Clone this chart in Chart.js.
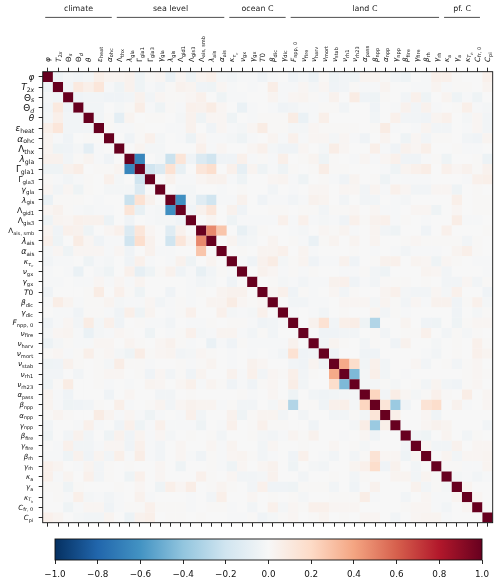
<!DOCTYPE html>
<html>
<head>
<meta charset="utf-8">
<script src="https://cdn.jsdelivr.net/npm/chart.js@4/dist/chart.umd.min.js"></script>
<style>
html,body{margin:0;padding:0;background:#fff;}
#wrap{position:relative;width:500px;height:582px;overflow:hidden;}
canvas{position:absolute;left:0;display:block;}
</style>
</head>
<body>
<div id="wrap">
<canvas id="main" width="500" height="582" style="top:0"></canvas>
<canvas id="bar" width="500" height="57" style="top:525px"></canvas>
</div>
<script>
// tick labels: base symbol and subscript ("_" opens a further subscript level, "*" = italic)
const tickBases = ["φ","T","Θ","Θ","θ","ε","α","Λ","λ","Γ","Γ","γ","λ","Λ","Λ","Λ","λ","α","κ","ν","γ","T0","β","γ","F","ν","ν","ν","ν","ν","ν","α","β","α","γ","β","γ","β","γ","κ","γ","κ","C","C"];
const tickSubs = ["","2*x","*s","*d","","heat","ohc","thx","gla","gla1","gla3","gla","gis","gid1","gis3","ais, smb","ais","ais","*τ_c","gx","gx","","dic","dic","npp, 0","fire","harv","mort","stab","rh1","rh23","pass","npp","npp","npp","fire","fire","rh","rh","a","a","*T_h","fr, 0","pi"];

// group headers: name, first and last column
const groupNames = ["climate","sea level","ocean C","land C","pf. C"];
const groupFirst = [0,7,18,24,39];
const groupLast = [6,17,23,38,42];

// correlation in hundredths: each row lists the columns to the right of the diagonal
const r0=[-5,-2,-3,-2,6,3,3,4,-5,1,2,-7,2,-5,3,5,-2,-3,-1,-1,-4,-1,0,-4,-2,-6,1,-5,-3,-5,3,3,1,-3,-5,0,-1,5,5,1,0,0,5];
const r1=[-3,10,6,12,-1,-5,4,-5,-1,-3,1,4,3,-4,-5,2,-1,0,-1,0,7,-1,-1,2,-2,2,-4,-3,1,-1,-1,3,0,0,-1,-1,3,-1,1,1,0,3];
const r2=[-4,-3,-3,-4,-4,-3,4,-3,2,1,1,2,5,0,-5,-1,-1,0,0,3,-1,2,3,1,-1,4,0,8,-4,-5,1,0,-3,5,-5,0,3,-5,-1,-5,0];
const r3=[-3,-3,0,-2,1,7,-1,-5,1,-1,5,4,8,2,0,-7,-1,0,-1,-4,-3,-1,-1,1,1,-3,0,0,-4,0,-1,4,-3,4,-1,0,1,6,-1,-2];
const r4=[-3,1,-10,3,0,1,1,0,-2,4,-5,2,2,-5,0,-1,1,1,1,8,-7,-1,6,0,0,0,0,-3,0,5,-3,-3,-4,3,5,0,-2,2,-3];
const r5=[1,-1,-1,1,0,0,-1,-1,4,0,-4,2,-1,-2,2,8,1,1,-2,-2,2,1,1,1,1,0,1,8,-1,0,-1,3,-3,-3,0,-1,2,-3];
const r6=[0,-4,1,5,-2,0,-1,-6,2,-1,-1,-2,-5,-1,0,3,-1,5,-1,2,2,-2,2,-1,-4,0,3,0,-5,2,-3,1,1,0,-3,-4,3];
const r7=[0,3,-2,-2,0,0,0,5,-1,2,0,0,2,5,-2,-4,-4,2,0,-2,7,2,0,0,6,-1,-4,4,2,6,0,0,1,-1,-1,0];
const r8=[-66,0,-2,-22,13,-4,-14,-20,-4,-4,5,-1,1,-1,6,0,1,3,-5,1,0,-1,2,-1,2,5,-4,-4,-1,1,-5,0,0,1,-6];
const r9=[-20,-14,15,-8,0,12,17,0,5,-9,3,-5,-1,-5,1,0,1,7,1,1,0,0,0,-1,-5,3,5,7,0,5,2,4,1,4];
const r10=[0,4,-1,-1,2,4,4,-1,-5,0,0,2,3,-1,-5,0,1,-1,-4,3,0,1,-5,-1,-1,-1,-1,0,0,0,-1,5,6];
const r11=[0,-2,-2,0,0,-1,0,1,0,0,-3,0,-1,0,2,2,0,2,2,-3,3,-1,5,2,-3,-3,2,2,-5,0,1,0];
const r12=[-62,-2,-12,-20,-1,-1,4,0,-4,-1,-1,-3,-1,4,3,0,-3,0,-3,-3,0,-1,-2,0,0,0,0,6,0,1,1];
const r13=[-4,4,12,0,4,-4,0,0,1,1,0,1,1,-3,1,1,2,0,2,-1,-1,0,2,2,-5,0,2,0,1,1];
const r14=[0,3,0,-5,-1,-1,-1,-1,5,-1,5,-1,-2,-1,-4,5,1,4,5,-1,1,0,-1,0,0,7,-1,-1,0];
const r15=[48,28,0,-8,-3,1,0,0,-1,-2,0,2,1,3,-1,0,3,-3,-5,0,0,-4,0,5,0,0,0,1];
const r16=[0,3,-3,-2,0,3,0,1,-1,-7,1,3,0,3,0,3,0,0,1,2,1,1,1,1,-3,1,0];
const r17=[0,1,0,3,3,5,0,3,-1,0,0,0,1,0,-1,0,-1,-3,-1,-1,-1,0,3,6,1,0];
const r18=[-1,-4,4,8,-2,1,3,-4,-1,-1,4,-4,0,1,4,5,0,3,2,-5,2,1,0,-1,-1];
const r19=[0,4,2,-1,1,-1,1,0,0,-1,-1,1,-3,-5,0,0,0,3,2,-3,0,0,0,-1];
const r20=[0,1,-2,-1,-3,-1,-1,4,5,-4,-1,-3,1,1,1,0,1,0,-3,-3,2,-3,1];
const r21=[2,5,-4,1,-1,0,2,-3,1,0,0,3,5,-2,-3,-3,2,-2,5,0,0,-4];
const r22=[0,-3,-3,-1,-1,0,2,2,2,-2,3,1,-3,2,-1,4,4,-4,1,5,-2];
const r23=[-1,0,-1,-3,0,1,0,0,3,-3,1,-1,0,0,0,0,-4,0,-2,1];
const r24=[0,4,15,-3,6,7,-5,-30,0,0,3,0,-4,-5,0,-5,1,2,2];
const r25=[0,-4,-4,-3,-3,0,1,-3,0,1,1,5,0,-3,1,-2,1,0];
const r26=[-3,3,1,0,-3,1,0,-4,4,0,0,-2,0,1,0,5,1];
const r27=[-4,0,0,-4,-4,0,0,0,0,-1,-3,0,1,0,5,3];
const r28=[38,18,-3,5,-3,0,0,2,-3,0,1,-3,1,2,0];
const r29=[-45,-2,6,-3,0,-1,0,0,0,0,0,1,2,1];
const r30=[-2,-2,1,-2,0,1,-3,3,-3,-4,1,2,0];
const r31=[22,-3,7,2,-2,1,5,1,0,7,0,2];
const r32=[13,-37,-4,0,14,18,0,4,-1,0,2];
const r33=[6,0,0,2,-4,0,0,0,0,0];
const r34=[0,0,2,4,3,0,0,0,-3];
const r35=[-3,-5,0,3,0,-3,1,0];
const r36=[2,-3,-3,4,0,2,2];
const r37=[0,3,-3,2,2,3];
const r38=[1,1,-1,-1,3];
const r39=[-2,-1,-3,-1];
const r40=[3,0,0];
const r41=[2,0];
const r42=[0];
const upperRows=[r0,r1,r2,r3,r4,r5,r6,r7,r8,r9,r10,r11,r12,r13,r14,r15,r16,r17,r18,r19,r20,r21,r22,r23,r24,r25,r26,r27,r28,r29,r30,r31,r32,r33,r34,r35,r36,r37,r38,r39,r40,r41,r42];

// colour map (RdBu reversed) and colour bar ticks
const cmapStops=["#053061","#2166ac","#4393c3","#92c5de","#d1e5f0","#f7f7f7","#fddbc7","#f4a582","#d6604d","#b2182b","#67001f"];
const barTicks=[-1,-0.8,-0.6,-0.4,-0.2,0,0.2,0.4,0.6,0.8,1];

const N=tickBases.length;
upperRows.forEach((r,i)=>{ if(r.length!==N-1-i) throw new Error("row "+i+" has "+r.length+" expected "+(N-1-i)); });

const cells=[];
for(let i=0;i<N;i++){
  cells.push({x:i,y:i,v:1});
  const r=upperRows[i]||[];
  r.forEach((p,k)=>{ const j=i+1+k; cells.push({x:j,y:i,v:p/100}); cells.push({x:i,y:j,v:p/100}); });
}
function hex(h){return [1,3,5].map(o=>parseInt(h.substr(o,2),16));}
const stopRGB=cmapStops.map(hex);
function colorFor(v){
  const t=Math.max(0,Math.min(1,(v+1)/2))*(stopRGB.length-1);
  const a=Math.min(Math.floor(t),stopRGB.length-2), f=t-a;
  const c=stopRGB[a].map((q,n)=>Math.round(q+(stopRGB[a+1][n]-q)*f));
  return `rgb(${c[0]},${c[1]},${c[2]})`;
}

const FONT='"DejaVu Sans"', INK='#111';
const TOP_SIZE=7.2;
function leftSize(i){ return i<10?8.9 : i<15?7.8 : i===15?7.2 : i<18?8 : i<31?7.4 : 7; }
function tokens(base,sub){
  const out=[];
  const first=base[0];
  const upright=/[ΘΛΓ]/.test(first);
  out.push({t:first,it:!upright,lv:0});
  if(base.length>1) out.push({t:base.slice(1),it:false,lv:0});
  let lv=1,it=false,buf='';
  const flush=()=>{ if(buf){out.push({t:buf,it,lv});buf='';} };
  for(const ch of sub){
    if(ch==='*'){flush();it=true;continue;}
    if(ch==='_'){flush();lv++;continue;}
    buf+=ch;
  }
  flush();
  return out;
}
const fontOf=(tk,fs)=>`${tk.it?'italic ':''}${fs*Math.pow(0.7,tk.lv)}px ${FONT}`;
function widthOf(ctx,toks,fs){let w=0;toks.forEach(tk=>{ctx.font=fontOf(tk,fs);w+=ctx.measureText(tk.t).width;});return w;}
function drawToks(ctx,toks,startX,fs){
  let x=startX;
  toks.forEach(tk=>{
    ctx.font=fontOf(tk,fs);
    ctx.fillText(tk.t,x,tk.lv*fs*0.21);
    x+=ctx.measureText(tk.t).width;
  });
}

const matrixText={
  id:'matrixText',
  beforeDatasetsDraw(chart){
    const {ctx,chartArea:a}=chart;
    ctx.save();ctx.fillStyle=colorFor(0);ctx.fillRect(a.left,a.top,a.width,a.height);ctx.restore();
  },
  afterDraw(chart){
    const {ctx,chartArea:a,scales}=chart;
    ctx.save();
    ctx.strokeStyle=INK;ctx.lineWidth=0.9;
    ctx.strokeRect(a.left,a.top,a.width,a.height);
    ctx.fillStyle=INK;ctx.textBaseline='alphabetic';ctx.textAlign='left';
    for(let i=0;i<N;i++){
      const toks=tokens(tickBases[i],tickSubs[i]);
      // left labels
      const ls=leftSize(i);
      const w=widthOf(ctx,toks,ls);
      ctx.save();
      ctx.translate(i<18?34.3:33.2,scales.y.getPixelForValue(i)+ls*0.36);
      drawToks(ctx,toks,-w,ls);
      ctx.restore();
      // top labels
      ctx.save();
      ctx.translate(scales.x.getPixelForValue(i)+TOP_SIZE*0.36,62);
      ctx.rotate(-Math.PI/2);
      drawToks(ctx,toks,0,TOP_SIZE);
      ctx.restore();
    }
    // group headers
    ctx.font=`7.9px ${FONT}`;ctx.textAlign='center';ctx.textBaseline='middle';
    groupNames.forEach((g,k)=>{
      const x0=scales.x.getPixelForValue(groupFirst[k])-2.6;
      const x1=scales.x.getPixelForValue(groupLast[k])+2.6;
      ctx.fillStyle='#222';
      ctx.fillText(g,(x0+x1)/2,8.5);
      ctx.strokeStyle='#222';ctx.lineWidth=0.8;
      ctx.beginPath();ctx.moveTo(x0,17.4);ctx.lineTo(x1,17.4);ctx.stroke();
    });
    ctx.restore();
  }
};

const tickAxis=(pos,size,horizontal)=>({
  type:'linear',position:pos,min:-0.5,max:N-0.5,reverse:!horizontal,
  offset:false,
  afterBuildTicks(s){s.ticks=tickBases.map((_,i)=>({value:i}));},
  ticks:{autoSkip:false,maxRotation:0,minRotation:0,padding:0,callback:()=>'',font:{size:1}},
  grid:{drawOnChartArea:false,drawTicks:true,tickLength:4,tickColor:INK,tickWidth:0.9},
  border:{display:false},
  afterFit(s){ if(horizontal) s.height=size; else s.width=size; }
});

new Chart(document.getElementById('main'),{
  type:'scatter',
  data:{datasets:[{
    data:cells,
    pointStyle:'rect',
    pointRadius:7.3,
    pointHoverRadius:7.3,
    borderWidth:0,
    pointBorderWidth:0,
    backgroundColor:c=>colorFor(c.raw?c.raw.v:0),
    clip:0
  }]},
  plugins:[matrixText],
  options:{
    responsive:false,animation:false,events:[],
    layout:{padding:{left:0,right:6,top:0,bottom:0}},
    plugins:{legend:{display:false},tooltip:{enabled:false}},
    scales:{
      x:tickAxis('top',71.7,true),
      x2:tickAxis('bottom',59.3,true),
      y:tickAxis('left',42.7,false)
    }
  }
});

const barFrame={
  id:'barFrame',
  afterDraw(chart){
    const {ctx,chartArea:a}=chart;
    ctx.save();ctx.strokeStyle=INK;ctx.lineWidth=0.9;ctx.strokeRect(a.left,a.top,a.width,a.height);ctx.restore();
  }
};
new Chart(document.getElementById('bar'),{
  type:'bar',
  data:{labels:['r'],datasets:[{
    data:[[barTicks[0],barTicks[barTicks.length-1]]],
    barPercentage:1,categoryPercentage:1,borderWidth:0,borderSkipped:false,
    backgroundColor(c){
      const s=c.chart.scales.x; if(!s||!c.chart.chartArea) return cmapStops[5];
      const g=c.chart.ctx.createLinearGradient(s.left,0,s.right,0);
      cmapStops.forEach((h,i)=>g.addColorStop(i/(cmapStops.length-1),h));
      return g;
    }
  }]},
  plugins:[barFrame],
  options:{
    indexAxis:'y',responsive:false,animation:false,events:[],
    layout:{padding:{left:55,right:18,top:14,bottom:0}},
    plugins:{legend:{display:false},tooltip:{enabled:false}},
    scales:{
      x:{type:'linear',min:-1,max:1,position:'bottom',
        afterBuildTicks(s){s.ticks=barTicks.map(v=>({value:v}));},
        ticks:{autoSkip:false,maxRotation:0,padding:5,color:INK,font:{family:'DejaVu Sans',size:8.8},
          callback:v=>(v<0?'−':'')+Math.abs(v).toFixed(1)},
        grid:{drawOnChartArea:false,drawTicks:true,tickLength:4,tickColor:INK,tickWidth:0.9},
        border:{display:false},
        afterFit(s){s.height=22;}
      },
      y:{display:false}
    }
  }
});
</script>
</body>
</html>
